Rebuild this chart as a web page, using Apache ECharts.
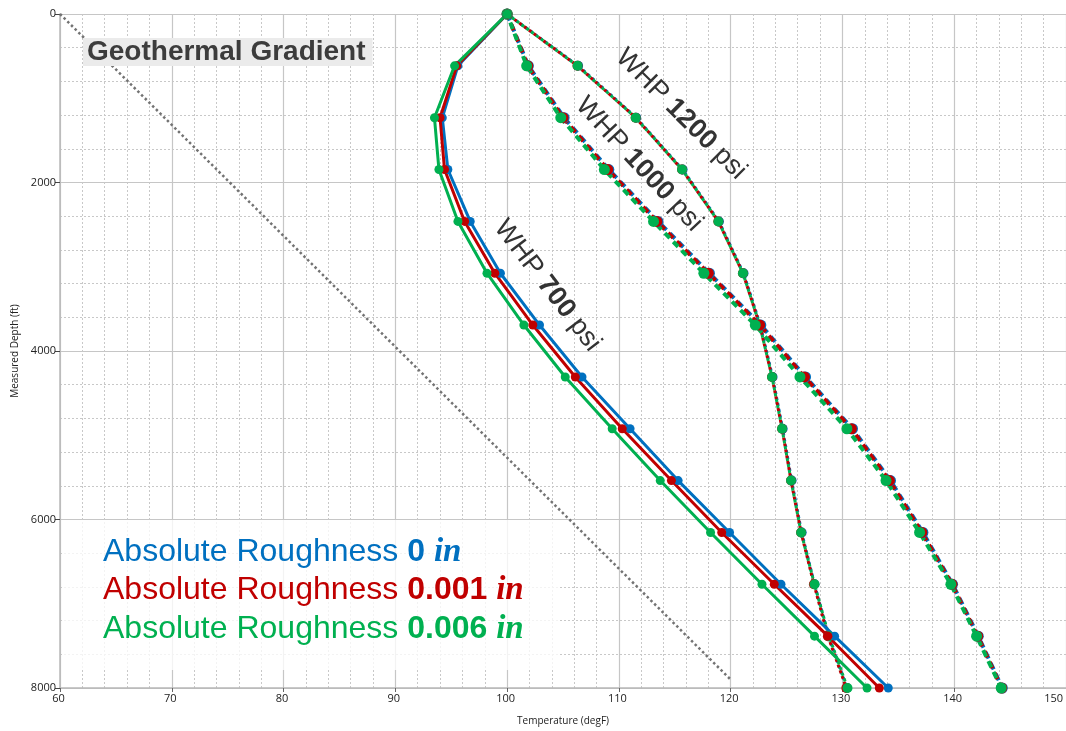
<!DOCTYPE html>
<html>
<head>
<meta charset="utf-8">
<script src="https://cdn.jsdelivr.net/npm/echarts@6/dist/echarts.min.js"></script>
<style>
  html, body { margin: 0; padding: 0; background: #ffffff; }
  #chart { width: 1066px; height: 731px; }
</style>
</head>
<body>
<div id="chart"></div>
<script>
// Measured depth stations (ft) shared by every temperature profile
const depthsFt = [0, 615, 1231, 1846, 2462, 3077, 3692, 4308, 4923, 5538, 6154, 6769, 7385, 8000];

// Flowing temperature (degF), WHP 700 psi
const whp700Rough0    = [100, 95.6, 94.2, 94.7, 96.7, 99.4, 102.9, 106.7, 111.0, 115.3, 119.9, 124.5, 129.3, 134.1];
const whp700Rough001  = [100, 95.5, 94.0, 94.4, 96.2, 98.9, 102.3, 106.1, 110.3, 114.7, 119.2, 123.9, 128.7, 133.3];
const whp700Rough006  = [100, 95.3, 93.5, 93.9, 95.6, 98.2, 101.5, 105.2, 109.4, 113.7, 118.2, 122.8, 127.5, 132.2];

// Flowing temperature (degF), WHP 1000 psi
const whp1000Rough0   = [100, 101.9, 105.1, 109.1, 113.5, 118.1, 122.7, 126.7, 130.9, 134.3, 137.2, 139.85, 142.15, 144.3];
const whp1000Rough001 = [100, 101.85, 105.0, 109.0, 113.4, 118.0, 122.6, 126.6, 130.8, 134.2, 137.1, 139.8, 142.1, 144.25];
const whp1000Rough006 = [100, 101.75, 104.8, 108.7, 113.1, 117.6, 122.2, 126.2, 130.4, 133.9, 136.9, 139.7, 142.0, 144.2];

// Flowing temperature (degF), WHP 1200 psi
const whp1200Rough0   = [100, 106.35, 111.55, 115.7, 118.95, 121.15, 122.65, 123.75, 124.65, 125.45, 126.35, 127.5, 128.75, 130.4];
const whp1200Rough001 = [100, 106.3, 111.5, 115.65, 118.9, 121.1, 122.6, 123.7, 124.6, 125.4, 126.3, 127.45, 128.7, 130.35];
const whp1200Rough006 = [100, 106.3, 111.5, 115.65, 118.9, 121.1, 122.6, 123.7, 124.6, 125.4, 126.3, 127.5, 128.8, 130.45];

// Geothermal gradient end points
const geothermalTemps  = [60, 120];
const geothermalDepths = [0, 7900];

// Roughness legend entries
const roughnessValues = ['0', '0.001', '0.006'];
const roughnessColors = ['#0070C0', '#C00000', '#00B050'];

// Wellhead pressure annotations: text placed along each profile (data coords)
const whpNotes = [
  { psi: '1200', temp: 115.55, depth: 1190, angle: 45 },
  { psi: '1000', temp: 111.8,  depth: 1785, angle: 47 },
  { psi: '700',  temp: 103.6,  depth: 3225, angle: 52.5 }
];

const zip = (temps, depths) => temps.map((t, i) => [t, depths[i]]);

function profile(name, temps, color, lineStyle, symbolSize) {
  return {
    name: name,
    type: 'line',
    data: zip(temps, depthsFt),
    symbol: 'circle',
    symbolSize: symbolSize,
    itemStyle: { color: color },
    lineStyle: Object.assign({ color: color }, lineStyle),
    emphasis: { disabled: true },
    z: 3
  };
}

const solid = { width: 3, type: 'solid' };
const dash = off => ({ width: 4, type: [7, 5], dashOffset: off });
const dot = off => ({ width: 3, type: [3, 3], dashOffset: off });

const series = [
  {
    name: 'Geothermal Gradient',
    type: 'line',
    data: zip(geothermalTemps, geothermalDepths),
    symbol: 'none',
    lineStyle: { color: '#737373', width: 2.5, type: [2.5, 2.7] },
    emphasis: { disabled: true },
    z: 2
  },
  profile('WHP 1200 psi, 0 in',     whp1200Rough0,   roughnessColors[0], dot(1.5), 10),
  profile('WHP 1200 psi, 0.001 in', whp1200Rough001, roughnessColors[1], dot(3), 10),
  profile('WHP 1200 psi, 0.006 in', whp1200Rough006, roughnessColors[2], dot(0), 10),
  profile('WHP 1000 psi, 0 in',     whp1000Rough0,   roughnessColors[0], dash(0), 11),
  profile('WHP 1000 psi, 0.001 in', whp1000Rough001, roughnessColors[1], dash(1.5), 11),
  profile('WHP 1000 psi, 0.006 in', whp1000Rough006, roughnessColors[2], dash(3), 11),
  profile('WHP 700 psi, 0 in',      whp700Rough0,    roughnessColors[0], solid, 9),
  profile('WHP 700 psi, 0.001 in',  whp700Rough001,  roughnessColors[1], solid, 9),
  profile('WHP 700 psi, 0.006 in',  whp700Rough006,  roughnessColors[2], solid, 9)
];

const chart = echarts.init(document.getElementById('chart'), null, { renderer: 'canvas' });

const axisFont = { fontFamily: 'Open Sans', fontSize: 11, color: '#222' };
const plainNumber = v => String(v);

chart.setOption({
  animation: false,
  backgroundColor: '#ffffff',
  grid: { left: 60, top: 14, right: -2, bottom: 40, containLabel: false },
  xAxis: {
    type: 'value',
    min: 60, max: 150, interval: 10,
    name: 'Temperature (degF)',
    nameLocation: 'middle',
    nameGap: 28,
    nameTextStyle: { fontFamily: 'Open Sans', fontSize: 10, color: '#222' },
    axisLine: { show: true, onZero: false, lineStyle: { color: '#b8b8b8', width: 1.5 } },
    axisTick: { show: true, length: 4, lineStyle: { color: '#666' } },
    axisLabel: Object.assign({ margin: 5, alignMaxLabel: 'right', padding: [0, 3, 0, 0], formatter: plainNumber }, axisFont),
    splitLine: { show: true, lineStyle: { color: '#c6c6c6', width: 1.2 } },
    minorTick: { show: false, splitNumber: 5 },
    minorSplitLine: { show: true, lineStyle: { color: '#c8c8c8', width: 1, type: [2, 2] } }
  },
  yAxis: {
    type: 'value',
    inverse: true,
    min: 0, max: 8000, interval: 2000,
    name: 'Measured Depth (ft)',
    nameLocation: 'middle',
    nameGap: 40,
    nameRotate: 90,
    nameTextStyle: { fontFamily: 'Open Sans', fontSize: 10, color: '#222' },
    axisLine: { show: true, onZero: false, lineStyle: { color: '#b8b8b8', width: 1.5 } },
    axisTick: { show: true, length: 5, lineStyle: { color: '#444' } },
    axisLabel: Object.assign({ margin: 4, formatter: plainNumber }, axisFont),
    splitLine: { show: true, lineStyle: { color: '#c6c6c6', width: 1.2 } },
    minorTick: { show: false, splitNumber: 5 },
    minorSplitLine: { show: true, lineStyle: { color: '#c8c8c8', width: 1, type: [2, 2] } }
  },
  series: series
});

// Annotations: roughness key, gradient tag and pressure captions
const graphics = [];

graphics.push({
  type: 'rect',
  z: 1,
  shape: { x: 62, y: 520, width: 496, height: 150 },
  style: { fill: 'rgba(255,255,255,0.78)' },
  silent: true
});

roughnessValues.forEach((v, i) => {
  graphics.push({
    type: 'text',
    z: 10,
    x: 103,
    y: 552 + i * 38.5,
    style: {
      text: '{a|Absolute Roughness }{b|' + v + ' }{c|in}',
      verticalAlign: 'middle',
      align: 'left',
      rich: {
        a: { fontFamily: 'Liberation Sans', fontSize: 32, fill: roughnessColors[i] },
        b: { fontFamily: 'Liberation Sans', fontSize: 32, fontWeight: 'bold', fill: roughnessColors[i] },
        c: { fontFamily: 'Liberation Serif', fontSize: 33, fontWeight: 'bold', fontStyle: 'italic', fill: roughnessColors[i] }
      }
    }
  });
});

graphics.push({
  type: 'text',
  z: 10,
  x: 83,
  y: 38,
  style: {
    text: 'Geothermal Gradient',
    fontFamily: 'Liberation Sans',
    fontSize: 28,
    fontWeight: 'bold',
    fill: '#3c3c3c',
    backgroundColor: '#ebebeb',
    padding: [0, 7, 0, 4],
    align: 'left',
    verticalAlign: 'top'
  }
});

whpNotes.forEach(n => {
  const p = chart.convertToPixel({ gridIndex: 0 }, [n.temp, n.depth]);
  graphics.push({
    type: 'text',
    z: 10,
    x: p[0],
    y: p[1],
    rotation: -n.angle * Math.PI / 180,
    style: {
      text: 'WHP {b|' + n.psi + '} psi',
      fontFamily: 'Liberation Sans',
      fontSize: 27,
      fill: '#333333',
      align: 'center',
      verticalAlign: 'middle',
      rich: {
        b: { fontFamily: 'Liberation Sans', fontSize: 27, fontWeight: 'bold', fill: '#333333' }
      }
    }
  });
});

chart.setOption({ graphic: graphics });
</script>
</body>
</html>
